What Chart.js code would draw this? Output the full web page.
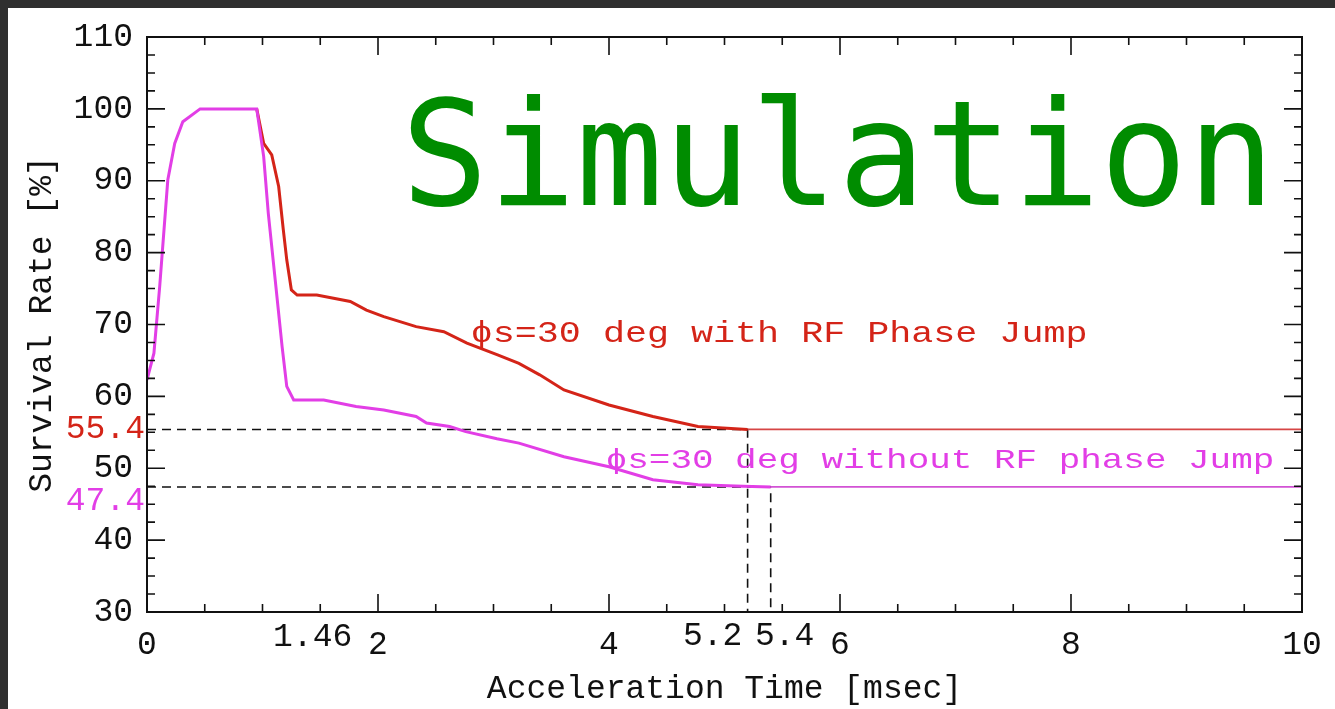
<!DOCTYPE html>
<html>
<head>
<meta charset="utf-8">
<title>Survival Rate vs Acceleration Time</title>
<script src="https://cdn.jsdelivr.net/npm/chart.js@4.4.1/dist/chart.umd.min.js"></script>
<style>
  html, body { margin: 0; padding: 0; }
  body { width: 1335px; height: 709px; background: #2f2f2f; overflow: hidden; }
  #wrap { position: absolute; left: 8px; top: 8px; width: 1327px; height: 701px; background: #fff; }
</style>
</head>
<body>
<div id="wrap"><canvas id="survival"></canvas></div>
<script>
// Survival rate [%] vs acceleration time [msec], phi_s = 30 deg
const withJumpTime = [0.95, 1.01, 1.08, 1.14, 1.18, 1.21, 1.25, 1.30, 1.47, 1.76, 1.90, 2.05,
  2.33, 2.57, 2.77, 3.03, 3.22, 3.40, 3.61, 4.00, 4.38, 4.77, 5.20];
const withJumpRate = [100, 95.2, 93.6, 89.2, 83.2, 79.0, 74.8, 74.1, 74.1, 73.2, 72.0, 71.1,
  69.7, 69.0, 67.4, 65.8, 64.6, 63.0, 60.9, 58.8, 57.2, 55.8, 55.4];

const withoutJumpTime = [0, 0.06, 0.11, 0.18, 0.24, 0.31, 0.46, 0.95, 1.01, 1.05, 1.11, 1.17,
  1.21, 1.27, 1.53, 1.81, 2.05, 2.33, 2.42, 2.62, 2.76, 3.03, 3.22, 3.61, 4.00, 4.38, 4.77, 5.16, 5.40];
const withoutJumpRate = [62.3, 66.0, 75.3, 90.1, 95.2, 98.2, 100, 100, 93.4, 85.5, 76.2, 66.9,
  61.4, 59.5, 59.5, 58.6, 58.1, 57.2, 56.3, 55.8, 55.1, 54.1, 53.5, 51.6, 50.2, 48.4, 47.7, 47.5, 47.4];

// final plateau of each run and the time it is reached
const withJumpFinal = 55.4;
const withJumpReach = 5.2;
const withoutJumpFinal = 47.4;
const withoutJumpReach = 5.4;
const endTime = 10;

const xTickValues = [0, 1.46, 2, 4, 5.2, 5.4, 6, 8, 10];
const xTickLabels = ['0', '1.46', '2', '4', '5.2', '5.4', '6', '8', '10'];

const RED = '#d42418';
const RED_THIN = '#d64545';
const MAGENTA = '#e23ee6';
const MAGENTA_THIN = '#d252d4';
const INK = '#111111';
const MONO = '"Liberation Mono", "DejaVu Sans Mono", monospace';

const toPoints = (xs, ys) => xs.map((t, i) => ({ x: t, y: ys[i] }));

// pixel nudges for the x labels that would otherwise collide
const xLabelShift = { '1.46': [-3, -8], '5.2': [-35, -9], '5.4': [14, -9] };

function drawFitted(ctx, text, left, baseline, width, font, color) {
  ctx.font = font;
  const m = ctx.measureText(text);
  const ink = m.actualBoundingBoxLeft + m.actualBoundingBoxRight;
  ctx.save();
  ctx.translate(left, baseline);
  ctx.scale(width / ink, 1);
  ctx.fillStyle = color;
  ctx.textAlign = 'left';
  ctx.textBaseline = 'alphabetic';
  ctx.fillText(text, m.actualBoundingBoxLeft, 0);
  ctx.restore();
}

const frameAndLabels = {
  id: 'frameAndLabels',
  afterDatasetsDraw(chart) {
    const { ctx, chartArea: a, scales: { x, y } } = chart;
    ctx.save();
    ctx.strokeStyle = INK;
    ctx.lineWidth = 2;
    ctx.strokeRect(a.left, a.top, a.width, a.height);

    // inward ticks on all four sides
    ctx.lineWidth = 1.6;
    ctx.beginPath();
    for (let v = 0; v <= endTime; v += 0.5) {
      const px = x.getPixelForValue(v);
      const len = v % 2 === 0 ? 18 : 8;
      ctx.moveTo(px, a.bottom); ctx.lineTo(px, a.bottom - len);
      ctx.moveTo(px, a.top); ctx.lineTo(px, a.top + len);
    }
    for (let v = 30; v <= 110; v += 2.5) {
      const py = y.getPixelForValue(v);
      const len = v % 10 === 0 ? 18 : 8;
      ctx.moveTo(a.left, py); ctx.lineTo(a.left + len, py);
      ctx.moveTo(a.right, py); ctx.lineTo(a.right - len, py);
    }
    ctx.stroke();

    // x tick labels
    ctx.font = '33px ' + MONO;
    ctx.fillStyle = INK;
    ctx.textAlign = 'center';
    ctx.textBaseline = 'middle';
    xTickValues.forEach((v, i) => {
      const label = xTickLabels[i];
      const [dx, dy] = xLabelShift[label] || [0, 0];
      ctx.fillText(label, x.getPixelForValue(v) + dx, a.bottom + 33 + dy);
    });

    // plateau values beside the y axis
    ctx.textAlign = 'right';
    ctx.fillStyle = RED;
    ctx.fillText(String(withJumpFinal), a.left - 2, y.getPixelForValue(withJumpFinal));
    ctx.fillStyle = MAGENTA;
    ctx.fillText(String(withoutJumpFinal), a.left - 2, y.getPixelForValue(withoutJumpFinal) + 14);
    ctx.restore();
  },
  afterDraw(chart) {
    const { ctx } = chart;
    drawFitted(ctx, 'ϕs=30 deg with RF Phase Jump', 464, 334, 613, '30px ' + MONO, RED);
    drawFitted(ctx, 'ϕs=30 deg without RF phase Jump', 599, 460, 665, '28px ' + MONO, MAGENTA);
    drawFitted(ctx, 'Simulation', 402, 197, 852, '146px "DejaVu Sans Mono", monospace', '#008c00');
  }
};

new Chart(document.getElementById('survival'), {
  type: 'line',
  data: {
    datasets: [
      {
        data: toPoints(withoutJumpTime, withoutJumpRate),
        borderColor: MAGENTA, borderWidth: 3, order: 0
      },
      {
        data: toPoints([withoutJumpReach, endTime], [withoutJumpFinal, withoutJumpFinal]),
        borderColor: MAGENTA_THIN, borderWidth: 1.8, order: 1
      },
      {
        data: toPoints(withJumpTime, withJumpRate),
        borderColor: RED, borderWidth: 3, order: 2
      },
      {
        data: toPoints([withJumpReach, endTime], [withJumpFinal, withJumpFinal]),
        borderColor: RED_THIN, borderWidth: 1.8, order: 3
      },
      {
        data: toPoints([0, withJumpReach, withJumpReach], [withJumpFinal, withJumpFinal, 30]),
        borderColor: INK, borderWidth: 1.6, borderDash: [9, 6], order: 4
      },
      {
        data: toPoints([0, withoutJumpReach, withoutJumpReach], [withoutJumpFinal, withoutJumpFinal, 30]),
        borderColor: INK, borderWidth: 1.6, borderDash: [9, 6], order: 5
      }
    ]
  },
  options: {
    responsive: true,
    maintainAspectRatio: false,
    animation: false,
    parsing: false,
    elements: { point: { radius: 0 }, line: { tension: 0, fill: false } },
    layout: { padding: { top: 29, right: 33, left: 0, bottom: 0 } },
    plugins: { legend: { display: false }, tooltip: { enabled: false } },
    scales: {
      x: {
        type: 'linear',
        min: 0,
        max: endTime,
        grid: { display: false, drawTicks: false },
        border: { display: false },
        ticks: { display: false },
        title: {
          display: true,
          text: 'Acceleration Time [msec]',
          color: INK,
          font: { family: MONO, size: 33 },
          padding: { top: 0, bottom: 0 }
        },
        afterFit: (scale) => { scale.height = 97; }
      },
      y: {
        min: 30,
        max: 110,
        grid: { display: false, drawTicks: false },
        border: { display: false },
        ticks: {
          stepSize: 10,
          padding: 14,
          color: INK,
          font: { family: MONO, size: 33 }
        },
        title: {
          display: true,
          text: 'Survival Rate [%]',
          color: INK,
          font: { family: MONO, size: 33 },
          padding: { top: 14, bottom: 0 }
        },
        afterFit: (scale) => {
          scale.width = 139;
          scale.paddingTop = 0;
          scale.paddingBottom = 0;
        }
      }
    }
  },
  plugins: [frameAndLabels]
});
</script>
</body>
</html>
